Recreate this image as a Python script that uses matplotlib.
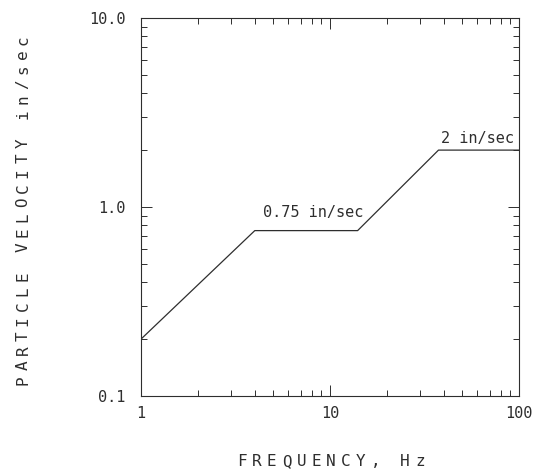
import matplotlib
matplotlib.use("Agg")
import matplotlib.pyplot as plt
from matplotlib.ticker import FixedLocator, NullFormatter

freq = [1, 4.0, 14.0, 37.5, 100]
velocity = [0.2, 0.75, 0.75, 2.0, 2.0]
xticks = [1, 10, 100]
xtick_labels = ["1", "10", "100"]
yticks = [0.1, 1.0, 10.0]
ytick_labels = ["0.1", "1.0", "10.0"]
annotations = [("0.75 in/sec", 4.4, 0.88), ("2 in/sec", 38.5, 2.18)]
xlabel = "FREQUENCY, Hz"
ylabel = "PARTICLE VELOCITY in/sec"

font = "DejaVu Sans Mono"
col = "#2e2e2e"
W, H = 545, 476

fig = plt.figure(figsize=(W / 100, H / 100), dpi=100)
ax = fig.add_axes([141/W, 1-396/H, 378/W, 378/H])
ax.plot(freq, velocity, color=col, lw=0.9)
ax.set_xscale("log")
ax.set_yscale("log")
ax.set_xlim(1, 100)
ax.set_ylim(0.1, 10)

ax.xaxis.set_major_locator(FixedLocator(xticks))
ax.yaxis.set_major_locator(FixedLocator(yticks))
ax.set_xticklabels(xtick_labels, family=font, fontsize=11, color=col)
ax.set_yticklabels(ytick_labels, family=font, fontsize=11, color=col)
ax.xaxis.set_minor_locator(FixedLocator([m * d for d in (1, 10) for m in range(2, 10)]))
ax.yaxis.set_minor_locator(FixedLocator([m * d for d in (0.1, 1) for m in range(2, 10)]))
ax.xaxis.set_minor_formatter(NullFormatter())
ax.yaxis.set_minor_formatter(NullFormatter())
ax.tick_params(which="both", direction="in", top=True, right=True, color=col, width=0.7)
ax.tick_params(which="major", length=8)
ax.tick_params(axis="x", which="major", pad=7)
ax.tick_params(axis="y", which="major", pad=11)
ax.tick_params(which="minor", length=4)
for s in ax.spines.values():
    s.set_linewidth(0.8)
    s.set_color(col)

for txt, x, y in annotations:
    ax.text(x, y, txt, family=font, fontsize=11, color=col, ha="left", va="baseline")


def spaced(text, cx, cy, pitch, vertical=False):
    n = len(text)
    for i, ch in enumerate(text):
        off = (i - (n - 1) / 2) * pitch
        if vertical:
            fig.text(cx / W, 1 - (cy - off) / H, ch, family=font, fontsize=11.5, color=col,
                     ha="center", va="center", rotation=90)
        else:
            fig.text((cx + off) / W, 1 - cy / H, ch, family=font, fontsize=11.5, color=col,
                     ha="center", va="center")


spaced(xlabel, 331, 462, 14.8)
spaced(ylabel, 23, 210, 14.8, vertical=True)

fig.savefig("out.png", dpi=100)
